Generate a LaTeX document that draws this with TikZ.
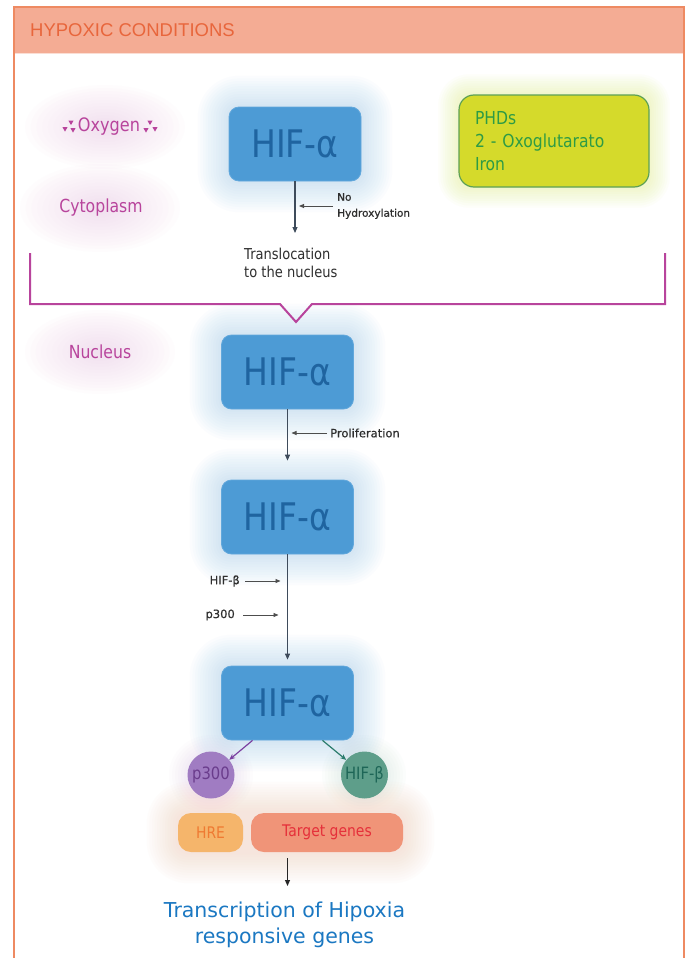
\documentclass[tikz,border=0pt]{standalone}
\usepackage{fontspec}
\setmainfont{DejaVu Sans}
\newfontfamily\tah[FakeStretch=0.87]{DejaVu Sans}
\newfontfamily\labfont[FakeBold=0.6]{DejaVu Sans}
\newfontfamily\hdrfont{Liberation Sans}
\usetikzlibrary{arrows.meta}
\definecolor{frameor}{HTML}{EE8A62}
\definecolor{hdrfill}{HTML}{F4AC94}
\definecolor{hdrtext}{HTML}{E8663C}
\definecolor{hifblue}{HTML}{4D9BD5}
\definecolor{hifborder}{HTML}{62A8DC}
\definecolor{hiftext}{HTML}{1F64A0}
\definecolor{glowblue}{HTML}{9FCBEB}
\definecolor{mag}{HTML}{B8449C}
\definecolor{glowpink}{HTML}{EDB8DC}
\definecolor{phdfill}{HTML}{D5DA2B}
\definecolor{phdborder}{HTML}{5DA055}
\definecolor{phdtext}{HTML}{2E9B45}
\definecolor{glowyel}{HTML}{DDE66A}
\definecolor{arrowc}{HTML}{3E4B5B}
\definecolor{labc}{HTML}{2E2E2E}
\definecolor{pfill}{HTML}{A07CC2}
\definecolor{ptext}{HTML}{6A3C8C}
\definecolor{parrow}{HTML}{7A3FA0}
\definecolor{bfill}{HTML}{5E9E8A}
\definecolor{btext}{HTML}{1E6657}
\definecolor{barrow}{HTML}{2B7C6C}
\definecolor{hrefill}{HTML}{F5B56B}
\definecolor{hretext}{HTML}{EF7A32}
\definecolor{tgfill}{HTML}{F09478}
\definecolor{tgtext}{HTML}{E5303A}
\definecolor{trblue}{HTML}{1B78C2}
\definecolor{glowor}{HTML}{F6C8B0}
\newcommand\glowrect[7]{%
  \foreach \k in {1,...,#6}{%
    \pgfmathsetmacro\e{\k*#7}\pgfmathsetmacro\rr{10+\e}%
    \fill[#5, fill opacity=0.04, rounded corners=\rr pt] (#1-\e,#2-\e) rectangle (#3+\e,#4+\e);}}
\newcommand\glowell[5]{%
  \foreach \k in {1,...,14}{%
    \fill[#5, fill opacity=0.03] (#1,#2) ellipse ({#3*\k/14} and {#4*\k/14});}}
\newcommand\oxtri[2]{\fill[mag] (#1-2.6,#2-2) -- (#1+2.6,#2-2) -- (#1,#2+2.6) -- cycle;}
\begin{document}
\begin{tikzpicture}[x=1pt,y=-1pt,
  hifbox/.style={rectangle, rounded corners=10pt, fill=hifblue, draw=hifborder, line width=0.8pt,
    minimum width=132pt, minimum height=74pt, inner sep=0pt, text=hiftext,
    font=\tah\fontsize{38}{40}\selectfont},
  mainarrow/.style={draw=arrowc, line width=1.1pt, -{Triangle[length=6pt,width=5pt]}},
  labarrow/.style={draw=labc!85, line width=0.9pt, -{Triangle[length=5pt,width=4pt]}},
  maglab/.style={text=mag, inner sep=0pt, font=\tah\fontsize{18}{20}\selectfont},
  smalllab/.style={text=labc, inner sep=0pt, font=\labfont\fontsize{11.5}{14}\selectfont},
  circ/.style={circle, minimum size=47pt, inner sep=0pt, font=\tah\fontsize{17}{19}\selectfont},
  pill/.style={rectangle, rounded corners=13pt, minimum height=39pt, inner sep=0pt,
    font=\tah\fontsize{16}{18}\selectfont}]
\useasboundingbox (0,0) rectangle (689,958);
\fill[white] (0,0) rectangle (689,958);
% glows
\glowell{105}{127}{80}{42}{glowpink}
\glowell{100}{208}{80}{44}{glowpink}
\glowell{100}{352}{75}{42}{glowpink}
\glowrect{229}{107}{361}{181}{glowblue}{12}{2.6}
\glowrect{221}{335}{354}{409}{glowblue}{12}{2.6}
\glowrect{221}{480}{354}{554}{glowblue}{12}{2.6}
\glowrect{221}{666}{354}{740}{glowblue}{12}{2.6}
\glowrect{459}{95}{649}{187}{glowyel}{9}{2.3}
\glowell{211}{775}{42}{40}{pfill!60}
\glowell{364}{775}{42}{40}{bfill!60}
\glowrect{178}{813}{403}{852}{glowor}{12}{2.6}
% frame and header
\fill[hdrfill] (14,7) rectangle (684,54);
\draw[white!60!hdrfill, line width=1pt] (14,54) -- (684,54);
\draw[frameor, line width=2pt] (14,958) -- (14,7) -- (684,7) -- (684,958);
\node[anchor=west, inner sep=0pt, text=hdrtext, font=\hdrfont\fontsize{18.5}{20}\selectfont] (hdr) at (30,30) {HYPOXIC CONDITIONS};
% cytoplasm labels
\node[maglab, font=\tah\fontsize{18.5}{20}\selectfont] (oxy) at (109,127) {Oxygen};
\oxtri{71}{122.5}\oxtri{65}{129}\oxtri{73}{130}
\oxtri{150}{122.5}\oxtri{146}{130}\oxtri{155}{129}
\node[maglab] (cyt) at (101,208) {Cytoplasm};
\node[maglab] (nuc) at (100,352) {Nucleus};
% PHDs box
\node[rectangle, rounded corners=15pt, fill=phdfill, draw=phdborder, line width=1.2pt,
  minimum width=190pt, minimum height=92pt, text width=158pt, inner xsep=16pt, align=left,
  text=phdtext, font=\tah\fontsize{17.9}{23}\selectfont] (phd) at (554,141)
  {PHDs\\2 - Oxoglutarato\\Iron};
% HIF boxes
\node[hifbox] (h1) at (295,144) {HIF-α};
\node[hifbox] (h2) at (287.5,372) {HIF-α};
\node[hifbox] (h3) at (287.5,517) {HIF-α};
\node[hifbox] (h4) at (287.5,703) {HIF-α};
% first arrow
\coordinate (t1) at (295,233);
\draw[mainarrow] (h1.south) -- (t1);
\node[smalllab, anchor=west, align=left, font=\labfont\fontsize{10.5}{16}\selectfont] (noh) at (337,206) {No\\Hydroxylation};
\draw[labarrow, shorten <=4pt, shorten >=4pt] (noh.west) -- (noh.west -| h1.south);
\node[anchor=west, inner sep=0pt, align=left, text=labc, font=\tah\fontsize{15}{18}\selectfont] (trl) at (244,263) {Translocation\\to the nucleus};
% bracket
\draw[mag, line width=2pt] (30,253) -- (30,304) -- (280,304) -- (296,322) -- (312,304) -- (665,304) -- (665,253);
% nucleus chain
\draw[mainarrow, shorten >=19pt] (h2) -- (h3);
\node[smalllab, anchor=west] (prol) at (330,433) {Proliferation};
\draw[labarrow, shorten <=3pt, shorten >=4pt] (prol.west) -- (prol.west -| h2.south);
\draw[mainarrow, shorten >=6pt] (h3) -- (h4);
\node[smalllab, anchor=east] (lb) at (240,581) {HIF-β};
\node[smalllab, anchor=east] (lp) at (235,615) {p300};
\draw[labarrow, shorten <=5pt, shorten >=7pt] (lb.east) -- (lb.east -| h3.south);
\draw[labarrow, shorten <=8pt, shorten >=9pt] (lp.east) -- (lp.east -| h3.south);
% circles
\node[circ, fill=pfill, text=ptext] (p3) at (211,775) {p300};
\node[circ, fill=bfill, text=btext] (hb) at (364.5,775) {HIF-β};
\draw[parrow, line width=1.2pt, -{Stealth[length=6pt,width=5pt]}] ([xshift=-35pt]h4.south) -- (p3);
\draw[barrow, line width=1.2pt, -{Stealth[length=6pt,width=5pt]}] ([xshift=35pt]h4.south) -- (hb);
% HRE and target
\node[pill, fill=hrefill, text=hretext, minimum width=65pt] (hre) at (210.5,832.5) {HRE};
\node[pill, fill=tgfill, text=tgtext, minimum width=152pt] (tg) at (327,832.5) {Target genes};
\coordinate (trtop) at (287.5,886);
\draw[draw=black!85, line width=1.1pt, -{Triangle[length=6pt,width=5pt]}, shorten <=6pt] (tg.south -| h4.south) -- (trtop);
\node[text=trblue, align=center, inner sep=0pt, font=\fontsize{20.5}{26}\selectfont] (tr) at (284.5,925) {Transcription of Hipoxia\\responsive genes};
\end{tikzpicture}
\end{document}
